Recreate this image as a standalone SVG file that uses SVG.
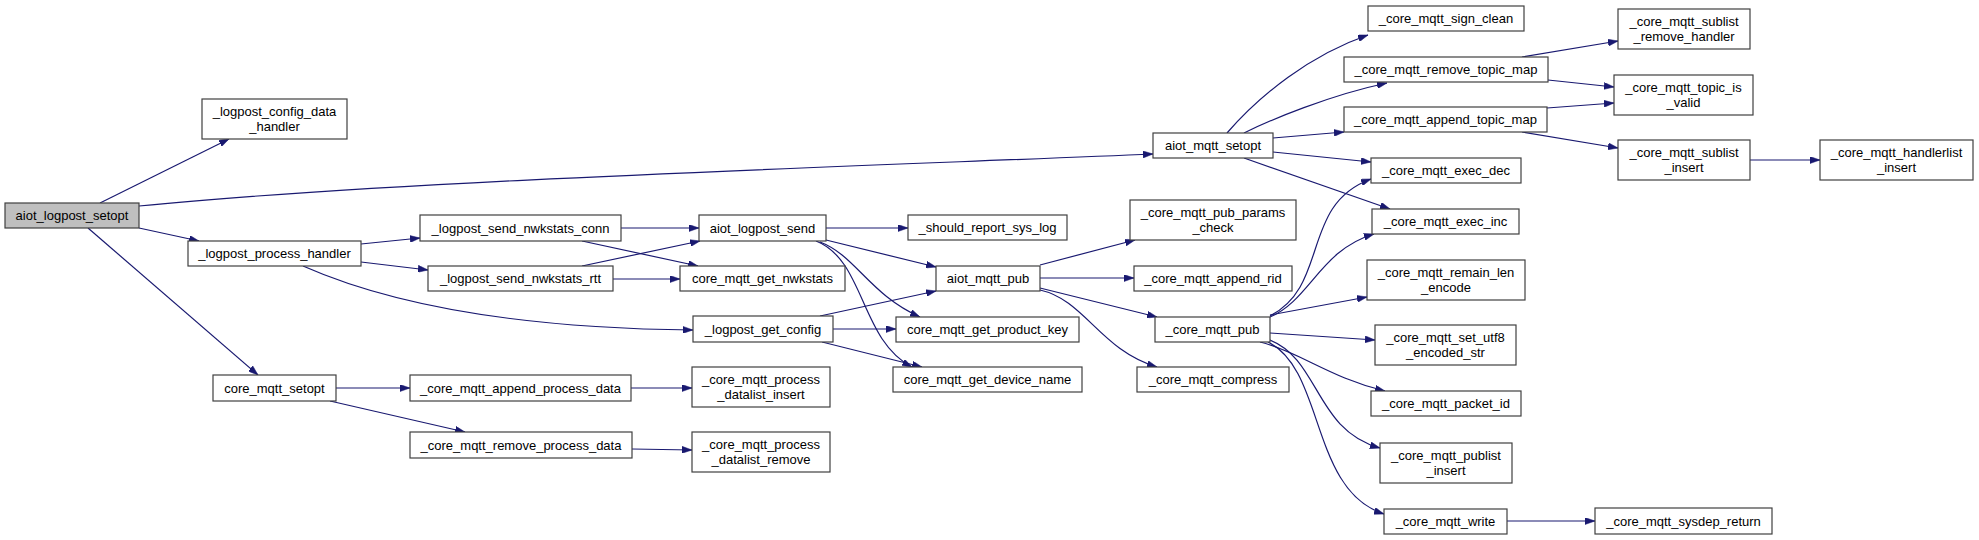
<svg xmlns="http://www.w3.org/2000/svg" width="1979" height="540" viewBox="0 0 1979 540">
<style>
.n rect{fill:#fff;stroke:#404040;stroke-width:1.2}
.n.root rect{fill:#bfbfbf}
.n text{font-family:"Liberation Sans",Arial,sans-serif;font-size:13px;fill:#000;text-anchor:middle}
.e path{fill:none;stroke:#191970;stroke-width:1.2;marker-end:url(#ah)}
</style>
<defs>
<marker id="ah" viewBox="0 0 10 7" refX="10" refY="3.5" markerWidth="10" markerHeight="7" markerUnits="userSpaceOnUse" orient="auto">
<path d="M0,0 L10,3.5 L0,7 z" fill="#191970" stroke="#191970" stroke-width="0.5"/>
</marker>
</defs>
<rect x="0" y="0" width="1979" height="540" fill="#fff"/>
<g id="connectors" class="e">
<path d="M100,203 L229,139"/>
<path d="M139,206 C400,180 900,165 1153,154"/>
<path d="M139,228 L199,241"/>
<path d="M88,228 L258,375"/>
<path d="M361,244 L420,238"/>
<path d="M361,262 L428,270"/>
<path d="M303,266 C380,300 500,328 693,330"/>
<path d="M621,228 L699,228"/>
<path d="M582,241 L698,266"/>
<path d="M582,266 L700,241"/>
<path d="M613,279 L680,279"/>
<path d="M826,228 L908,228"/>
<path d="M826,240 L936,267"/>
<path d="M820,242 C855,255 870,295 920,317"/>
<path d="M816,241 C865,260 860,340 912,367"/>
<path d="M820,316 L936,291"/>
<path d="M833,329 L896,329"/>
<path d="M822,342 L922,367"/>
<path d="M336,388 L410,388"/>
<path d="M330,401 L465,432"/>
<path d="M631,388 L692,388"/>
<path d="M632,449 L692,450"/>
<path d="M1040,265 L1135,240"/>
<path d="M1040,278 L1134,278"/>
<path d="M1040,288 L1157,317"/>
<path d="M1040,290 C1085,300 1100,350 1157,367"/>
<path d="M1227,133 C1260,95 1310,55 1368,35"/>
<path d="M1244,133 C1270,120 1330,95 1387,83"/>
<path d="M1273,138 L1344,132"/>
<path d="M1273,152 L1371,162"/>
<path d="M1244,158 L1390,209"/>
<path d="M1522,57 L1618,41"/>
<path d="M1548,80 L1614,87"/>
<path d="M1547,108 L1614,103"/>
<path d="M1522,132 L1618,148"/>
<path d="M1750,160 L1820,160"/>
<path d="M1270,316 C1330,285 1300,205 1371,179"/>
<path d="M1270,317 C1310,300 1320,250 1374,234"/>
<path d="M1270,315 L1367,297"/>
<path d="M1270,333 L1375,340"/>
<path d="M1260,342 C1300,352 1330,378 1385,391"/>
<path d="M1270,340 C1320,360 1315,430 1380,448"/>
<path d="M1268,342 C1325,370 1310,490 1384,514"/>
<path d="M1507,521 L1595,521"/>
</g>
<g id="n0" class="n root"><rect x="5" y="203" width="134" height="25"/><text x="72" y="220">aiot_logpost_setopt</text></g>
<g id="n1" class="n"><rect x="202" y="99" width="145" height="40"/><text x="274.5" y="116">_logpost_config_data</text><text x="274.5" y="131">_handler</text></g>
<g id="n2" class="n"><rect x="188" y="241" width="173" height="25"/><text x="274.5" y="258">_logpost_process_handler</text></g>
<g id="n3" class="n"><rect x="213" y="375" width="123" height="26"/><text x="274.5" y="392.5">core_mqtt_setopt</text></g>
<g id="n4" class="n"><rect x="420" y="215" width="201" height="26"/><text x="520.5" y="232.5">_logpost_send_nwkstats_conn</text></g>
<g id="n5" class="n"><rect x="428" y="266" width="185" height="25"/><text x="520.5" y="283">_logpost_send_nwkstats_rtt</text></g>
<g id="n6" class="n"><rect x="693" y="316" width="140" height="26"/><text x="763" y="333.5">_logpost_get_config</text></g>
<g id="n7" class="n"><rect x="699" y="215" width="127" height="26"/><text x="762.5" y="232.5">aiot_logpost_send</text></g>
<g id="n8" class="n"><rect x="680" y="266" width="165" height="25"/><text x="762.5" y="283">core_mqtt_get_nwkstats</text></g>
<g id="n9" class="n"><rect x="410" y="375" width="221" height="26"/><text x="520.5" y="392.5">_core_mqtt_append_process_data</text></g>
<g id="n10" class="n"><rect x="410" y="432" width="222" height="26"/><text x="521" y="449.5">_core_mqtt_remove_process_data</text></g>
<g id="n11" class="n"><rect x="692" y="367" width="138" height="40"/><text x="761" y="384">_core_mqtt_process</text><text x="761" y="399">_datalist_insert</text></g>
<g id="n12" class="n"><rect x="692" y="432" width="138" height="40"/><text x="761" y="449">_core_mqtt_process</text><text x="761" y="464">_datalist_remove</text></g>
<g id="n13" class="n"><rect x="908" y="215" width="159" height="25"/><text x="987.5" y="232">_should_report_sys_log</text></g>
<g id="n14" class="n"><rect x="936" y="266" width="104" height="25"/><text x="988" y="283">aiot_mqtt_pub</text></g>
<g id="n15" class="n"><rect x="896" y="317" width="183" height="25"/><text x="987.5" y="334">core_mqtt_get_product_key</text></g>
<g id="n16" class="n"><rect x="893" y="367" width="189" height="25"/><text x="987.5" y="384">core_mqtt_get_device_name</text></g>
<g id="n17" class="n"><rect x="1130" y="200" width="166" height="40"/><text x="1213" y="217">_core_mqtt_pub_params</text><text x="1213" y="232">_check</text></g>
<g id="n18" class="n"><rect x="1134" y="266" width="158" height="25"/><text x="1213" y="283">_core_mqtt_append_rid</text></g>
<g id="n19" class="n"><rect x="1155" y="317" width="115" height="25"/><text x="1212.5" y="334">_core_mqtt_pub</text></g>
<g id="n20" class="n"><rect x="1137" y="367" width="152" height="25"/><text x="1213" y="384">_core_mqtt_compress</text></g>
<g id="n21" class="n"><rect x="1153" y="133" width="120" height="25"/><text x="1213" y="150">aiot_mqtt_setopt</text></g>
<g id="n22" class="n"><rect x="1368" y="6" width="156" height="25"/><text x="1446" y="23">_core_mqtt_sign_clean</text></g>
<g id="n23" class="n"><rect x="1344" y="57" width="204" height="25"/><text x="1446" y="74">_core_mqtt_remove_topic_map</text></g>
<g id="n24" class="n"><rect x="1344" y="107" width="203" height="25"/><text x="1445.5" y="124">_core_mqtt_append_topic_map</text></g>
<g id="n25" class="n"><rect x="1371" y="158" width="150" height="25"/><text x="1446" y="175">_core_mqtt_exec_dec</text></g>
<g id="n26" class="n"><rect x="1372" y="209" width="147" height="25"/><text x="1445.5" y="226">_core_mqtt_exec_inc</text></g>
<g id="n27" class="n"><rect x="1367" y="260" width="158" height="40"/><text x="1446" y="277">_core_mqtt_remain_len</text><text x="1446" y="292">_encode</text></g>
<g id="n28" class="n"><rect x="1375" y="325" width="141" height="40"/><text x="1445.5" y="342">_core_mqtt_set_utf8</text><text x="1445.5" y="357">_encoded_str</text></g>
<g id="n29" class="n"><rect x="1371" y="391" width="150" height="25"/><text x="1446" y="408">_core_mqtt_packet_id</text></g>
<g id="n30" class="n"><rect x="1380" y="443" width="132" height="40"/><text x="1446" y="460">_core_mqtt_publist</text><text x="1446" y="475">_insert</text></g>
<g id="n31" class="n"><rect x="1384" y="509" width="123" height="25"/><text x="1445.5" y="526">_core_mqtt_write</text></g>
<g id="n32" class="n"><rect x="1595" y="508" width="177" height="26"/><text x="1683.5" y="525.5">_core_mqtt_sysdep_return</text></g>
<g id="n33" class="n"><rect x="1618" y="9" width="132" height="40"/><text x="1684" y="26">_core_mqtt_sublist</text><text x="1684" y="41">_remove_handler</text></g>
<g id="n34" class="n"><rect x="1614" y="75" width="139" height="40"/><text x="1683.5" y="92">_core_mqtt_topic_is</text><text x="1683.5" y="107">_valid</text></g>
<g id="n35" class="n"><rect x="1618" y="140" width="132" height="40"/><text x="1684" y="157">_core_mqtt_sublist</text><text x="1684" y="172">_insert</text></g>
<g id="n36" class="n"><rect x="1820" y="140" width="153" height="40"/><text x="1896.5" y="157">_core_mqtt_handlerlist</text><text x="1896.5" y="172">_insert</text></g>
</svg>
